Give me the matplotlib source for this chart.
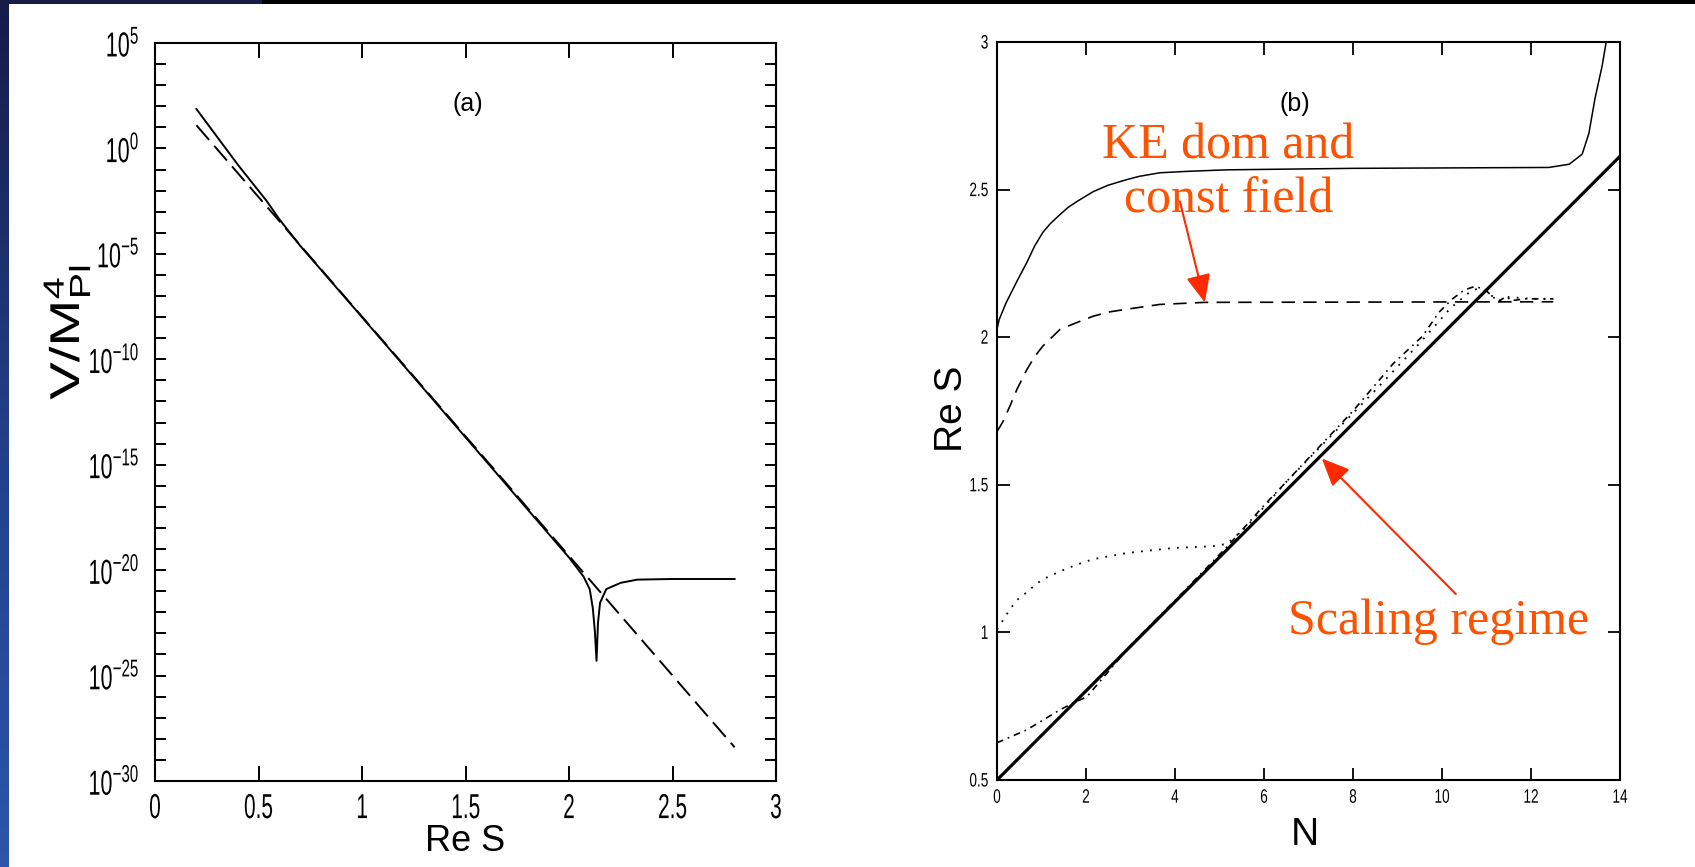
import numpy as np
import matplotlib
matplotlib.use("Agg")
import matplotlib.pyplot as plt
from matplotlib import font_manager
from matplotlib.colors import LinearSegmentedColormap
from matplotlib.patches import Rectangle
from matplotlib.patheffects import AbstractPathEffect
from matplotlib.transforms import Affine2D
from matplotlib.ticker import NullFormatter

# narrow sans for the MATLAB-like axes text, serif for the slide annotations
names = {f.name for f in font_manager.fontManager.ttflist}
SANS = "Liberation Sans Narrow" if "Liberation Sans Narrow" in names else "Liberation Sans"
SERIF = "Liberation Serif"

plt.rcParams["font.family"] = [SANS, "DejaVu Sans"]
plt.rcParams["mathtext.fontset"] = "custom"
plt.rcParams["mathtext.rm"] = SANS
plt.rcParams["mathtext.it"] = SANS
plt.rcParams["axes.unicode_minus"] = False


class Narrow(AbstractPathEffect):
    """Scale glyphs along the text direction, keeping the aligned edge fixed."""

    def __init__(self, sx=0.72, anchor="center"):
        super().__init__()
        self.sx = sx
        self.anchor = anchor

    def draw_path(self, renderer, gc, tpath, affine, rgbFace=None):
        ext = tpath.get_extents()
        x0 = {"left": ext.x0, "center": 0.5 * (ext.x0 + ext.x1), "right": ext.x1}[self.anchor]
        squeeze = Affine2D().translate(-x0, 0).scale(self.sx, 1).translate(x0, 0)
        renderer.draw_path(gc, tpath, squeeze + affine, rgbFace)


# ---- panel (a): potential vs Re S, values as log10(V/M_Pl^4) ----
a_full_x = [0.2, 0.3, 0.4, 0.54, 0.6, 0.7, 1.0, 1.5, 2.0, 2.07, 2.1, 2.115,
            2.125, 2.133, 2.14, 2.15, 2.18, 2.25, 2.33, 2.5, 2.8]
a_full_logv = [1.87, 0.55, -0.77, -2.5, -3.35, -4.6, -8.0, -13.7, -19.4, -20.3,
               -20.9, -21.8, -22.9, -24.3, -22.5, -21.55, -20.9, -20.6, -20.45,
               -20.42, -20.42]
a_approx_x = [0.2, 2.8]
a_approx_logv = [1.1, -28.4]

a_major_exp = [5, 0, -5, -10, -15, -20, -25, -30]
a_xticks = [0, 0.5, 1, 1.5, 2, 2.5, 3]
a_xticklabels = ["0", "0.5", "1", "1.5", "2", "2.5", "3"]

# ---- panel (b): Re S vs N for several initial conditions ----
b_track_n = [0, 14]
b_track_s = [0.5, 2.613]

b_high_n = [0, 0.05, 0.2, 0.45, 0.67, 0.85, 1.03, 1.2, 1.42, 1.6, 1.8, 2.16,
            2.5, 2.92, 3.2, 3.66, 4.3, 5.17, 8.0, 12.4, 12.86, 13.15, 13.3,
            13.44, 13.6, 13.69]
b_high_s = [2.027, 2.06, 2.115, 2.19, 2.253, 2.31, 2.355, 2.385, 2.416, 2.44,
            2.46, 2.493, 2.515, 2.534, 2.545, 2.557, 2.562, 2.567, 2.572, 2.575,
            2.586, 2.62, 2.69, 2.81, 2.92, 3.0]

b_dash_n = [0, 0.13, 0.3, 0.45, 0.67, 0.85, 1.03, 1.42, 1.8, 2.16, 2.5, 2.92,
            3.66, 4.67, 12.5]
b_dash_s = [1.68, 1.713, 1.77, 1.824, 1.89, 1.935, 1.97, 2.027, 2.05, 2.071,
            2.085, 2.095, 2.111, 2.118, 2.12]

b_dot_n = [0, 0.15, 0.29, 0.45, 0.67, 0.85, 1.03, 1.42, 1.8, 2.16, 2.92, 3.96,
           4.85, 5.17, 5.62, 6.5, 7.5, 8.5, 9.5, 10.2, 10.6, 10.8, 11.0, 11.3,
           11.6, 12.0, 12.5]
b_dot_s = [1.01, 1.045, 1.078, 1.11, 1.136, 1.16, 1.18, 1.207, 1.23, 1.248,
           1.269, 1.286, 1.292, 1.30, 1.36, 1.51, 1.665, 1.82, 1.98, 2.10, 2.15,
           2.165, 2.15, 2.125, 2.135, 2.13, 2.13]

b_dashdot_n = [0, 0.67, 1.42, 1.7, 2.02, 2.54, 3.06, 3.96, 5.17, 6.0, 7.0, 8.0,
               8.9, 9.56, 9.93, 10.22, 10.5, 10.74, 10.96, 11.12, 11.27, 11.45,
               11.63, 11.85, 12.5]
b_dashdot_s = [0.626, 0.67, 0.738, 0.76, 0.782, 0.874, 0.966, 1.102, 1.29, 1.43,
               1.59, 1.75, 1.91, 2.003, 2.084, 2.128, 2.16, 2.172, 2.162, 2.14,
               2.12, 2.14, 2.125, 2.13, 2.13]

b_xticks = [0, 2, 4, 6, 8, 10, 12, 14]
b_yticks = [0.5, 1, 1.5, 2, 2.5, 3]
b_yticklabels = ["0.5", "1", "1.5", "2", "2.5", "3"]

W, H = 1695, 867
fig = plt.figure(figsize=(W / 100, H / 100), dpi=100)
fig.patch.set_facecolor("white")

# slide frame: blue strip on the left, dark bar along the top
strip = fig.add_axes([0, 0, 9 / W, 1])
grad = np.linspace(0, 1, 256).reshape(-1, 1)
cm = LinearSegmentedColormap.from_list("slide", ["#2c55ab", "#233f88", "#161b48"])
strip.imshow(grad, aspect="auto", cmap=cm, origin="lower")
strip.set_axis_off()
fig.patches.append(Rectangle((0, 1 - 4 / H), 1, 4 / H, transform=fig.transFigure,
                             facecolor="black", edgecolor="none", zorder=5))
fig.patches.append(Rectangle((0, 1 - 4 / H), 262 / W, 4 / H, transform=fig.transFigure,
                             facecolor="#161b48", edgecolor="none", zorder=6))

# ---------------- (a) ----------------
ax1 = fig.add_axes([155 / W, 86 / H, 621 / W, 738 / H])
ax1.set_yscale("log")
ax1.plot(a_full_x, 10.0 ** np.array(a_full_logv), color="black", lw=1.4)
ax1.plot(a_approx_x, 10.0 ** np.array(a_approx_logv), color="black", lw=1.4,
         linestyle=(0, (10, 4)))
ax1.set_xlim(0, 3)
ax1.set_ylim(1e-30, 1e5)
ax1.set_xticks(a_xticks)
ax1.set_xticklabels(a_xticklabels)
ax1.set_yticks([10.0 ** e for e in a_major_exp])
ax1.set_yticklabels([r"$\mathregular{10^{%d}}$" % e for e in a_major_exp])
ax1.set_yticks([10.0 ** e for e in range(-30, 6) if e % 5], minor=True)
ax1.yaxis.set_minor_formatter(NullFormatter())
ax1.tick_params(axis="both", which="both", direction="in", top=True, right=True,
                width=1.4, labelsize=25)
ax1.tick_params(axis="x", which="major", length=11, pad=8)
ax1.tick_params(axis="y", which="both", length=8, pad=11)
ax1.set_xlabel("Re S", fontsize=26)
ax1.xaxis.set_label_coords(0.5, -0.058)
ax1.set_ylabel(r"$\mathregular{V/M_{Pl}^{4}}$", fontsize=30)
ax1.yaxis.set_label_coords(-0.10, 0.608)
ax1.yaxis.label.set_path_effects([Narrow(1.35, "center")])
ax1.text(1.51, 10 ** 2.1, "(a)", fontsize=18, ha="center", va="center")
for s in ax1.spines.values():
    s.set_linewidth(1.5)
for lab in ax1.get_xticklabels():
    lab.set_path_effects([Narrow(0.6, "center")])
for lab in ax1.get_yticklabels():
    lab.set_path_effects([Narrow(0.62, "right")])

# ---------------- (b) ----------------
ax2 = fig.add_axes([997 / W, 87 / H, 623 / W, 738 / H])
ax2.plot(b_track_n, b_track_s, color="black", lw=2.3)
ax2.plot(b_high_n, b_high_s, color="black", lw=1.1)
ax2.plot(b_dash_n, b_dash_s, color="black", lw=1.2, linestyle=(0, (8, 5)))
ax2.plot(b_dot_n, b_dot_s, color="black", lw=1.3, linestyle=(0, (1, 4)))
ax2.plot(b_dashdot_n, b_dashdot_s, color="black", lw=1.2,
         linestyle=(0, (4, 3, 1, 3)))
ax2.set_xlim(0, 14)
ax2.set_ylim(0.5, 3)
ax2.set_xticks(b_xticks)
ax2.set_yticks(b_yticks)
ax2.set_yticklabels(b_yticklabels)
ax2.tick_params(axis="both", direction="in", top=True, right=True, width=1.3,
                length=9, labelsize=14)
ax2.tick_params(axis="x", pad=7)
ax2.tick_params(axis="y", pad=6)
ax2.set_xlabel("N", fontsize=28)
ax2.xaxis.set_label_coords(0.494, -0.05)
ax2.set_ylabel("Re S", fontsize=28)
ax2.yaxis.set_label_coords(-0.043, 0.503)
ax2.text(6.7, 2.79, "(b)", fontsize=18, ha="center", va="center")
for s in ax2.spines.values():
    s.set_linewidth(1.5)
for lab in ax2.get_xticklabels():
    lab.set_path_effects([Narrow(0.7, "center")])
for lab in ax2.get_yticklabels():
    lab.set_path_effects([Narrow(0.7, "right")])

orange = "#ff5200"
arrow_red = "#ff2a00"
ax2.text(5.2, 2.424, "KE dom and\nconst field", color=orange, family=SERIF,
         fontsize=36, ha="center", va="baseline", linespacing=1.2)
ax2.annotate("", xy=(4.67, 2.118), xytext=(4.11, 2.46),
             arrowprops=dict(arrowstyle="-|>,head_length=1.7,head_width=0.75",
                             color=arrow_red, lw=1.5, shrinkA=0, shrinkB=0))
ax2.text(9.93, 0.995, "Scaling regime", color=orange, family=SERIF,
         fontsize=36, ha="center", va="baseline")
ax2.annotate("", xy=(7.30, 1.589), xytext=(10.31, 1.13),
             arrowprops=dict(arrowstyle="-|>,head_length=1.7,head_width=0.75",
                             color=arrow_red, lw=1.5, shrinkA=0, shrinkB=0))

fig.savefig("out.png", dpi=100)
